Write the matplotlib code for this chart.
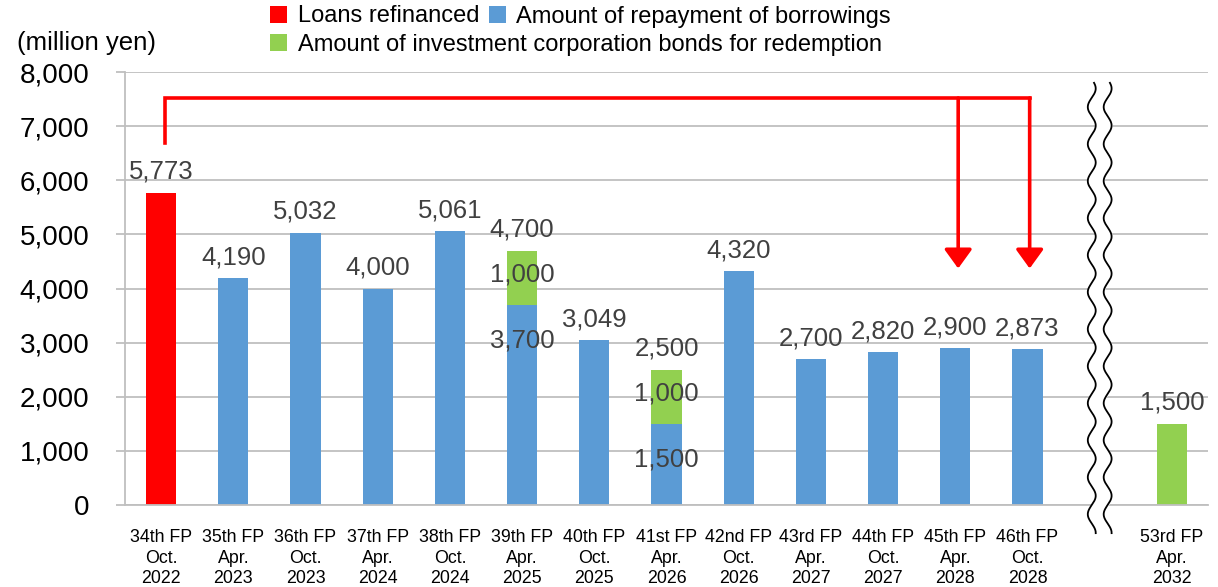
import numpy as np
import matplotlib
matplotlib.use("Agg")
import matplotlib.pyplot as plt
from matplotlib.patches import Patch

plt.rcParams['font.family'] = ['Liberation Sans', 'DejaVu Sans']

# ---- data ----
periods = ["34th FP", "35th FP", "36th FP", "37th FP", "38th FP", "39th FP", "40th FP",
           "41st FP", "42nd FP", "43rd FP", "44th FP", "45th FP", "46th FP", "53rd FP"]
months = ["Oct.", "Apr.", "Oct.", "Apr.", "Oct.", "Apr.", "Oct.",
          "Apr.", "Oct.", "Apr.", "Oct.", "Apr.", "Oct.", "Apr."]
years = ["2022", "2023", "2023", "2024", "2024", "2025", "2025",
         "2026", "2026", "2027", "2027", "2028", "2028", "2032"]
refinanced = [5773, 0, 0, 0, 0, 0, 0, 0, 0, 0, 0, 0, 0, 0]
repayment = [0, 4190, 5032, 4000, 5061, 3700, 3049, 1500, 4320, 2700, 2820, 2900, 2873, 0]
bonds = [0, 0, 0, 0, 0, 1000, 0, 1000, 0, 0, 0, 0, 0, 1500]
legend_labels = ["Loans refinanced", "Amount of repayment of borrowings",
                 "Amount of investment corporation bonds for redemption"]
yticks = [0, 1000, 2000, 3000, 4000, 5000, 6000, 7000, 8000]

RED = "#FF0000"
BLUE = "#5B9BD5"
GREEN = "#92D050"
GRID = "#BFBFBF"
LBL = "#404040"

# positions (gap for the axis break before the last period)
xpos = np.array(list(range(13)) + [14], dtype=float)

fig = plt.figure(figsize=(12.18, 5.87), dpi=100)
ax = fig.add_axes([125 / 1218, 1 - 505 / 587, (1208 - 125) / 1218, (505 - 72) / 587])

W = 0.42
ref = np.array(refinanced)
rep = np.array(repayment)
bnd = np.array(bonds)
ax.bar(xpos, ref, width=W, color=RED, zorder=2)
ax.bar(xpos, rep, width=W, color=BLUE, zorder=2)
ax.bar(xpos, bnd, width=W, bottom=rep, color=GREEN, zorder=2)

totals = ref + rep + bnd
for xi, t, r, b in zip(xpos, totals, rep, bnd):
    ax.annotate(f"{t:,}", (xi, t), xytext=(0, 15), textcoords="offset points",
                ha="center", va="center", fontsize=18.5, color=LBL, zorder=5)
    if r > 0 and b > 0:
        ax.annotate(f"{b:,}", (xi, r + b / 2), xytext=(0, 2), textcoords="offset points",
                    ha="center", va="center", fontsize=18.5, color=LBL, zorder=5)
        ax.annotate(f"{r:,}", (xi, r), xytext=(0, -25.5), textcoords="offset points",
                    ha="center", va="center", fontsize=18.5, color=LBL, zorder=5)

# axes styling
ax.set_xlim(-0.5, 14.5)
ax.set_ylim(0, 8000)
ax.set_yticks(yticks)
ax.set_yticklabels([f"{v:,}" for v in yticks])
ax.yaxis.grid(True, color=GRID, lw=1.3)
ax.set_axisbelow(True)
for s in ["top", "right"]:
    ax.spines[s].set_visible(False)
ax.spines["left"].set_color(GRID)
ax.spines["left"].set_linewidth(1.3)
ax.spines["bottom"].set_color(GRID)
ax.spines["bottom"].set_linewidth(1.3)
ax.tick_params(axis="y", length=6.5, width=1.3, color=GRID, pad=19, labelsize=20)
ax.set_xticks(xpos)
ax.set_xticklabels([f"{p}\n{m}\n{y}" for p, m, y in zip(periods, months, years)],
                   fontsize=12.8, linespacing=1.3)
ax.tick_params(axis="x", length=0, pad=17)

# axis break marks
yy = np.linspace(-520, 7800, 600)
amp = 0.055
wave = amp * np.sin(2 * np.pi * yy / 684)
xl = 13 - 0.11 + wave
xr = 13 + 0.11 + wave
ax.fill_betweenx(yy, xl, xr, color="white", zorder=3, clip_on=False)
ax.plot(xl, yy, color="black", lw=1.3, zorder=4, clip_on=False)
ax.plot(xr, yy, color="black", lw=1.3, zorder=4, clip_on=False)

# red refinancing arrows
ax.plot([0.055, 0.055, 12.03], [6690, 7520, 7520], color=RED, lw=2.6, zorder=4,
        solid_joinstyle="miter", solid_capstyle="projecting")
for xa in [11.04, 12.03]:
    ax.annotate("", xy=(xa, 4370), xytext=(xa, 7520),
                arrowprops=dict(arrowstyle="-|>,head_length=0.58,head_width=0.42",
                                mutation_scale=20, color=RED, lw=2.6,
                                shrinkA=0, shrinkB=0), zorder=4)

# unit label
fig.text(17 / 1218, 1 - 43 / 587, "(million yen)", fontsize=18.5, ha="left", va="center")

# legend (two rows)
h = [Patch(facecolor=RED), Patch(facecolor=BLUE), Patch(facecolor=GREEN)]
common = dict(frameon=False, fontsize=17, handlelength=0.72, handleheight=0.72,
              handletextpad=0.45, columnspacing=0.4, borderpad=0, borderaxespad=0,
              loc="center left")
leg1 = fig.legend(h[:2], legend_labels[:2], ncol=2,
                  bbox_to_anchor=(270 / 1218, 1 - 16.5 / 587), **common)
leg2 = fig.legend(h[2:], legend_labels[2:], ncol=1,
                  bbox_to_anchor=(270 / 1218, 1 - 45 / 587), **common)

fig.savefig("out.png", dpi=100)
